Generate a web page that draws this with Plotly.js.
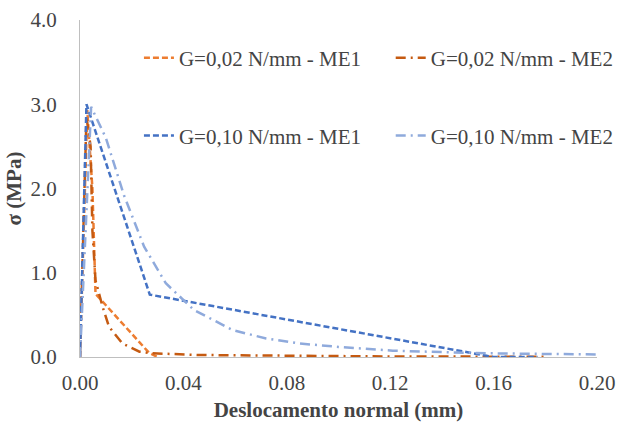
<!DOCTYPE html>
<html><head><meta charset="utf-8">
<script src="https://cdn.plot.ly/plotly-3.0.1.min.js"></script>
<style>html,body{margin:0;padding:0;background:#fff}#chart{width:619px;height:423px}
.t{position:absolute;left:250px;font-size:21px;font-family:'Liberation Serif'}</style>
</head><body>
<div class="t" style="top:180px">G=0,02 N/mm - ME1 0.00 4.0</div>
<div class="t" style="top:210px"><b>Deslocamento normal (mm) σ (MPa)</b></div>
<div id="chart"></div>
<script>
const seriesNames = ["G=0,02 N/mm - ME1", "G=0,02 N/mm - ME2", "G=0,10 N/mm - ME1", "G=0,10 N/mm - ME2"];
const xG02ME1 = [0, 0.0028, 0.0048, 0.006, 0.0267, 0.03];
const yG02ME1 = [0, 2.93, 2.0, 0.75, 0.05, 0.0];
const xG02ME2 = [0, 0.0025, 0.0041, 0.0048, 0.006, 0.0087, 0.0112, 0.0164, 0.023, 0.028, 0.046, 0.08, 0.12, 0.18];
const yG02ME2 = [0, 2.85, 2.5, 1.5, 0.91, 0.6, 0.36, 0.16, 0.063, 0.044, 0.024, 0.012, 0.006, 0.003];
const xG10ME1 = [0, 0.0025, 0.027, 0.16, 0.177];
const yG10ME1 = [0, 3.0, 0.74, 0.0, 0.0];
const xG10ME2 = [0, 0.0043, 0.010, 0.017, 0.0248, 0.0332, 0.044, 0.059, 0.072, 0.085, 0.100, 0.121, 0.157, 0.20];
const yG10ME2 = [0, 2.97, 2.60, 1.92, 1.31, 0.875, 0.56, 0.32, 0.22, 0.16, 0.12, 0.075, 0.044, 0.03];
const xTicks = [0, 0.04, 0.08, 0.12, 0.16, 0.20];
const xTickText = ["0.00", "0.04", "0.08", "0.12", "0.16", "0.20"];
const yTicks = [0, 1, 2, 3, 4];
const yTickText = ["0.0", "1.0", "2.0", "3.0", "4.0"];

const F = "Liberation Serif";
const FS = 21;
const traces = [
  {x: xG02ME1, y: yG02ME1, name: seriesNames[0], mode: "lines", line: {color: "#ED7D31", width: 2.5, dash: "6px,3px"}, legend: "legend"},
  {x: xG02ME2, y: yG02ME2, name: seriesNames[1], mode: "lines", line: {color: "#C55A11", width: 2.5, dash: "10px,5px,2px,5px"}, legend: "legend2"},
  {x: xG10ME1, y: yG10ME1, name: seriesNames[2], mode: "lines", line: {color: "#4472C4", width: 2.5, dash: "6px,3px"}, legend: "legend3"},
  {x: xG10ME2, y: yG10ME2, name: seriesNames[3], mode: "lines", line: {color: "#8FAADC", width: 2.5, dash: "10px,5px,2px,5px"}, legend: "legend4"}
];
function leg(x, y) {
  return {x: x, y: y, xanchor: "left", yanchor: "middle",
    font: {family: F, size: FS}, bgcolor: "rgba(0,0,0,0)", itemclick: false};
}
const layout = {
  width: 619, height: 423,
  margin: {l: 80, r: 22, t: 20, b: 66, autoexpand: false},
  paper_bgcolor: "#fff", plot_bgcolor: "#fff",
  font: {family: F, size: FS},
  xaxis: {range: [0, 0.20], tickvals: xTicks, ticktext: xTickText, showgrid: false, zeroline: false,
    showline: true, linecolor: "#BFBFBF", linewidth: 1, ticks: "", ticklabelstandoff: 7,
    tickfont: {family: F, size: FS},
    title: {text: "<b>Deslocamento normal (mm)</b>", font: {family: F, size: FS}, standoff: 8}},
  yaxis: {range: [0, 4.0], tickvals: yTicks, ticktext: yTickText, showgrid: false, zeroline: false,
    showline: true, linecolor: "#BFBFBF", linewidth: 1, ticks: "", ticklabelstandoff: 18,
    tickfont: {family: F, size: FS},
    title: {text: "<b>σ (MPa)</b>", font: {family: F, size: FS}, standoff: 3}},
  legend: leg(0.114, 0.887),
  legend2: leg(0.601, 0.887),
  legend3: leg(0.114, 0.656),
  legend4: leg(0.601, 0.656),
  showlegend: true
};
Plotly.newPlot("chart", traces, layout, {staticPlot: true, displayModeBar: false});
</script></body></html>
